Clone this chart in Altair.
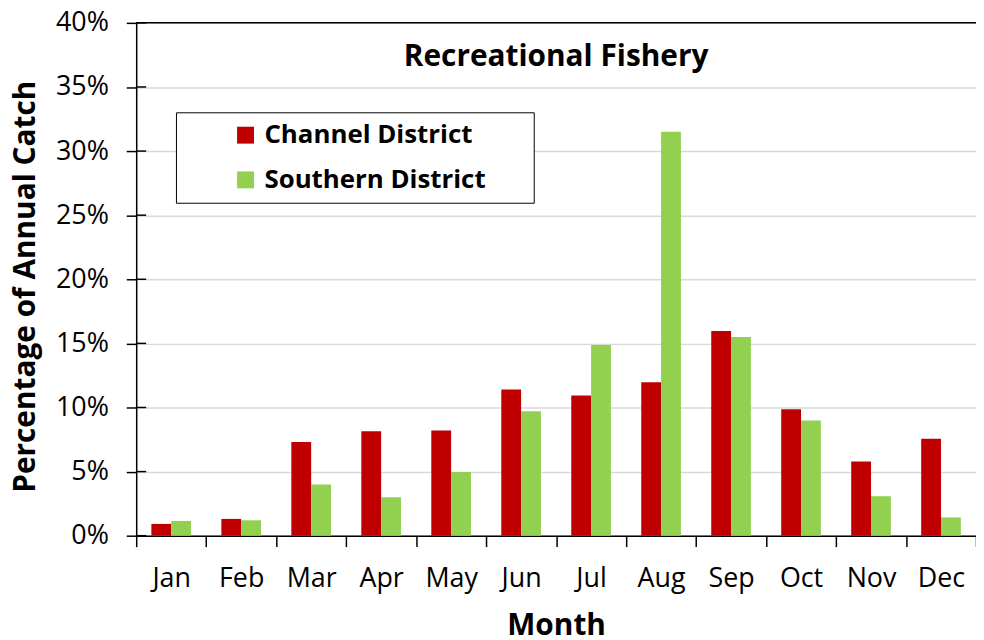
import altair as alt
import pandas as pd

months = ["Jan", "Feb", "Mar", "Apr", "May", "Jun", "Jul", "Aug", "Sep", "Oct", "Nov", "Dec"]
channel = [0.92, 1.31, 7.30, 8.14, 8.20, 11.40, 10.93, 11.97, 15.96, 9.87, 5.78, 7.56]
southern = [1.15, 1.20, 4.00, 3.00, 4.97, 9.70, 14.87, 31.50, 15.50, 8.99, 3.08, 1.42]
series = ["Channel District", "Southern District"]
colors = ["#C00000", "#92D050"]
y_ticks = [0, 0.05, 0.10, 0.15, 0.20, 0.25, 0.30, 0.35, 0.40]

rows = []
for m, c, s in zip(months, channel, southern):
    rows.append({"Month": m, "District": series[0], "Value": c / 100})
    rows.append({"Month": m, "District": series[1], "Value": s / 100})
df = pd.DataFrame(rows)

FONT = "Open Sans"
yscale = alt.Scale(domain=[0, 0.4], nice=False)

bars = alt.Chart(df).mark_bar().encode(
    x=alt.X(
        "Month:N",
        sort=months,
        scale=alt.Scale(paddingInner=0, paddingOuter=0),
        axis=alt.Axis(
            title="Month",
            labelAngle=0,
            tickBand="extent",
            grid=False,
            domainColor="black",
            domainWidth=1.5,
            tickColor="black",
            tickWidth=1.5,
            tickSize=11,
            labelFont=FONT,
            labelFontSize=27,
            labelColor="black",
            labelPadding=19,
            titleFont=FONT,
            titleFontSize=30,
            titleFontWeight="bold",
            titleColor="black",
            titlePadding=19,
        ),
    ),
    xOffset=alt.XOffset("District:N", sort=series,
                        scale=alt.Scale(paddingOuter=0.765, paddingInner=0)),
    y=alt.Y(
        "Value:Q",
        scale=yscale,
        axis=alt.Axis(
            title="Percentage of Annual Catch",
            values=y_ticks,
            format=".0%",
            grid=True,
            gridColor="#D9D9D9",
            gridWidth=1.5,
            domainColor="black",
            domainWidth=1.5,
            tickColor="black",
            tickWidth=1.5,
            tickSize=10,
            labelFont=FONT,
            labelFontSize=27,
            labelColor="black",
            labelPadding=18,
            titleFont=FONT,
            titleFontSize=30,
            titleFontWeight="bold",
            titleColor="black",
            titleBaseline="middle",
            titleX=-111,
            titleY=265,
        ),
    ),
    color=alt.Color(
        "District:N",
        sort=series,
        scale=alt.Scale(domain=series, range=colors),
        legend=alt.Legend(
            title=None,
            orient="none",
            legendX=40,
            legendY=90,
            strokeColor="black",
            fillColor="white",
            padding=10,
            symbolOffset=47,
            symbolType="square",
            symbolSize=289,
            symbolStrokeWidth=0,
            labelFont=FONT,
            labelFontSize=26,
            labelFontWeight="bold",
            labelColor="black",
            labelLimit=600,
            labelOffset=6,
            rowPadding=19,
            labelExpr="datum.label + '\u2800\u2800'",
        ),
    ),
)

# inward half of the cross-style y ticks
inner_ticks = alt.Chart(pd.DataFrame({"tick": y_ticks})).mark_rule(
    color="black", strokeWidth=1.5
).encode(
    y=alt.Y("tick:Q", scale=yscale),
    x=alt.value(0),
    x2=alt.value(10),
)

top_line = alt.Chart(pd.DataFrame({"top": [0.4]})).mark_rule(color="black", strokeWidth=1.5).encode(
    y=alt.Y("top:Q", scale=yscale)
)

chart = alt.layer(bars, inner_ticks, top_line).properties(
    width=845,
    height=516,
    title=alt.TitleParams(
        "Recreational Fishery",
        font=FONT,
        fontSize=30,
        fontWeight="bold",
        color="black",
        anchor="middle",
        baseline="middle",
        offset=0,
        dy=78,
    ),
    autosize=alt.AutoSizeParams(type="none"),
    padding={"left": 129, "top": 13, "right": 0, "bottom": 103},
).configure_view(stroke=None).configure_legend(strokeWidth=1.5).configure(background="white")

chart.save("out.html", embed_options={"renderer": "svg", "actions": False})
